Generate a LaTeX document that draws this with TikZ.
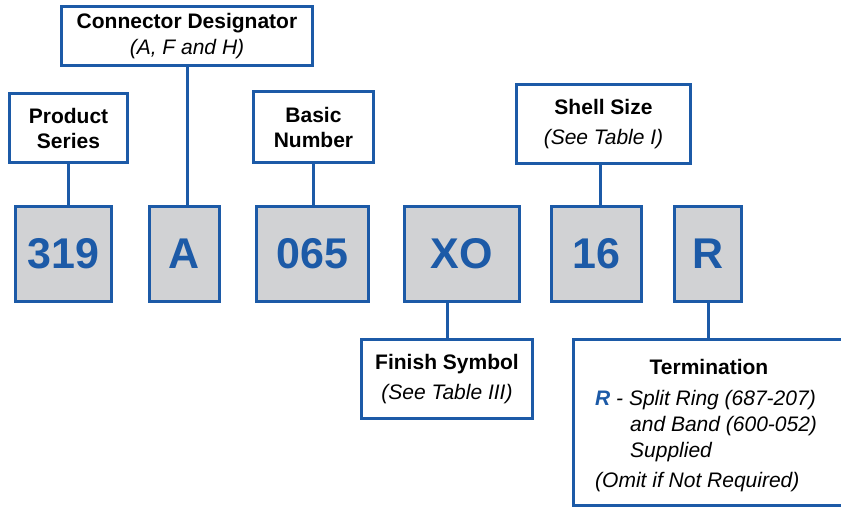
\documentclass[tikz,border=0pt]{standalone}
\usepackage{fontspec}
\setmainfont{Liberation Sans}
\usetikzlibrary{calc,positioning}
\definecolor{pnblue}{HTML}{1C5AA7}
\definecolor{pngray}{HTML}{D1D2D4}

\begin{document}
\begin{tikzpicture}[x=1pt,y=-1pt,
	labelbox/.style={draw=pnblue,line width=3pt,fill=white,align=center,inner sep=0pt,font=\fontsize{21}{25}\selectfont},
	codebox/.style={draw=pnblue,line width=3pt,fill=pngray,inner sep=0pt,minimum height=95pt,text=pnblue,font=\fontsize{43}{43}\selectfont\bfseries},
	link/.style={draw=pnblue,line width=3pt},
	termtext/.style={anchor=base west,inner sep=0pt,font=\fontsize{21}{25}\selectfont\itshape}]
	\useasboundingbox (0,0) rectangle (841,510);
	\clip (0,0) rectangle (841,510);
	% part number fields
	\node (p319) at (63.5,254) [codebox,minimum width=96pt] {319};
	\node (pA) at (184.5,254) [codebox,minimum width=70pt] {A};
	\node (p065) at (312.5,254) [codebox,minimum width=112pt] {065};
	\node (pXO) at (462,254) [codebox,minimum width=115pt] {XO};
	\node (p16) at (596.5,254) [codebox,minimum width=90pt] {16};
	\node (pR) at (708,254) [codebox,minimum width=67pt] {R};
	% labels above
	\node (series) at (68.5,128) [labelbox,minimum width=118pt,minimum height=69pt] {\textbf{Product}\\\textbf{Series}};
	\node (desig) at (187,36) [labelbox,minimum width=251pt,minimum height=59pt] {\textbf{Connector Designator}\\[1pt]\textit{(A, F and H)}};
	\node (basic) at (313.5,127) [labelbox,minimum width=120pt,minimum height=71pt] {\textbf{Basic}\\\textbf{Number}};
	\node (shell) at (603.5,124) [labelbox,minimum width=174pt,minimum height=79pt] {\textbf{Shell Size}\\[5pt]\textit{(See Table I)}};
	% labels below
	\node (finish) at (447,379) [labelbox,minimum width=171pt,minimum height=79pt] {\textbf{Finish Symbol}\\[5pt]\textit{(See Table III)}};
	\node (term) at (711,422.5) [labelbox,minimum width=275pt,minimum height=166pt] {};
	\node (termhead) at ($(term.north west)+(137,37)$) [anchor=base,inner sep=0pt,font=\fontsize{21}{25}\selectfont\bfseries] {Termination};
	\node (termR) at ($(term.north west)+(23,68)$) [termtext] {\textbf{\textcolor{pnblue}{R}} - Split Ring (687-207)};
	\node (termband) at ($(term.north west)+(58,94)$) [termtext] {and Band (600-052)};
	\node (termsup) at ($(term.north west)+(58,119)$) [termtext] {Supplied};
	\node (termomit) at ($(term.north west)+(23,149)$) [termtext] {(Omit if Not Required)};
	% links
	\draw[link] (series.south) -- (series.south |- p319.north);
	\draw[link] (desig.south) -- (desig.south |- pA.north);
	\draw[link] (basic.south) -- (basic.south |- p065.north);
	\draw[link] ([xshift=-3.5pt]shell.south) coordinate (S1) -- (S1 |- p16.north);
	\draw[link] (pXO.south -| finish.north) -- (finish.north);
	\draw[link] (pR.south) -- (pR.south |- term.north);
\end{tikzpicture}
\end{document}
